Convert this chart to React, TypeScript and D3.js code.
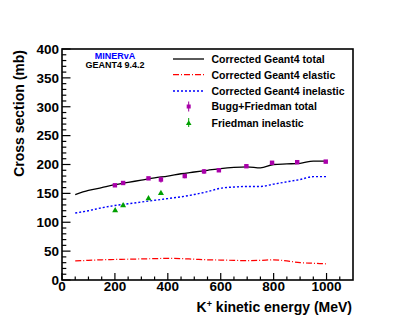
import React from "react";
import * as d3 from "d3";

const energy = [50, 100, 150, 200, 250, 300, 350, 400, 450, 500, 550, 600, 650, 700, 750, 800, 850, 900, 950, 1000];
const totalG4 = [148, 155, 160, 165, 169, 173, 177, 180, 184, 187, 190, 193, 195, 196, 194, 200, 201, 202, 206, 206];
const elasticG4 = [33, 34, 35, 35.5, 36, 36.5, 37, 37.5, 37, 36, 35, 34.5, 34, 33.5, 34, 35, 33, 30, 29, 28];
const inelasticG4 = [116, 120, 125, 129, 132, 135, 138, 141, 144, 148, 153, 159, 161, 162, 162, 166, 170, 174, 179, 179];

const buggE = [200, 231, 327, 374, 464, 537, 593, 697, 794, 889, 997];
const buggXS = [164, 168, 176, 174, 180, 188, 190, 197, 203, 204, 205];
const buggErr = [2, 2, 2, 5, 4, 4, 3, 3, 3, 3, 3];

const friedE = [201, 231, 327, 374];
const friedXS = [121, 130, 142, 151];

const xMajor = [0, 200, 400, 600, 800, 1000];
const yMajor = [0, 50, 100, 150, 200, 250, 300, 350, 400];

const W = 415, H = 329;
const L = 62, R = 353, T = 49, B = 280;
const FONT = "'Liberation Sans', Arial, Helvetica, sans-serif";

export default function App() {
  const x = d3.scaleLinear().domain([0, 1100]).range([L, R]);
  const y = d3.scaleLinear().domain([0, 400]).range([B, T]);
  const line = (ys: number[]) =>
    d3.line<number>().x((_, i) => x(energy[i])).y((d) => y(d)).curve(d3.curveMonotoneX)(ys) || "";

  const xMinor = d3.range(0, 1100, 50);
  const yMinor = d3.range(0, 401, 10);

  const legendRows = [
    { label: "Corrected Geant4 total", kind: "solid" },
    { label: "Corrected Geant4 elastic", kind: "dashdot" },
    { label: "Corrected Geant4 inelastic", kind: "dot" },
    { label: "Bugg+Friedman total", kind: "square" },
    { label: "Friedman inelastic", kind: "tri" },
  ];
  const rowY = [59, 74.7, 91, 106.5, 123];

  const tri = (cx: number, cy: number, s: number) =>
    `M${cx},${cy - s} L${cx + s},${cy + s * 0.75} L${cx - s},${cy + s * 0.75} Z`;

  return (
    <svg width={W} height={H} style={{ position: "absolute", left: 0, top: 0 }} fontFamily={FONT}>
      <rect width={W} height={H} fill="#fff" />
      {/* curves */}
      <path d={line(totalG4)} fill="none" stroke="#000" strokeWidth={1.3} />
      <path d={line(elasticG4)} fill="none" stroke="#ff0000" strokeWidth={1.2} strokeDasharray="6,2,1,2" />
      <path d={line(inelasticG4)} fill="none" stroke="#0000ff" strokeWidth={1.4} strokeDasharray="2,2" />
      {/* Bugg points */}
      {buggE.map((e, i) => (
        <g key={"b" + i}>
          <line x1={x(e)} x2={x(e)} y1={y(buggXS[i] - buggErr[i])} y2={y(buggXS[i] + buggErr[i])} stroke="#990099" strokeWidth={1.2} />
          <rect x={x(e) - 2.2} y={y(buggXS[i]) - 2.2} width={4.4} height={4.4} fill="#aa00aa" />
        </g>
      ))}
      {/* Friedman points */}
      {friedE.map((e, i) => (
        <path key={"f" + i} d={tri(x(e), y(friedXS[i]), 3)} fill="#00a000" />
      ))}
      {/* frame */}
      <rect x={L} y={T} width={R - L} height={B - T} fill="none" stroke="#000" strokeWidth={1.6} />
      {/* x ticks */}
      {xMinor.map((v) => (
        <line key={"xm" + v} x1={x(v)} x2={x(v)} y1={B} y2={B - (v % 200 === 0 ? 7 : 3.5)} stroke="#000" strokeWidth={1.2} />
      ))}
      {yMinor.map((v) => (
        <line key={"ym" + v} x1={L} x2={L + (v % 50 === 0 ? 8.5 : 4.3)} y1={y(v)} y2={y(v)} stroke="#000" strokeWidth={1.2} />
      ))}
      {xMajor.map((v) => (
        <text key={"xl" + v} x={x(v)} y={291} textAnchor="middle" fontSize={13.5} fontWeight="bold">{v}</text>
      ))}
      {yMajor.map((v) => (
        <text key={"yl" + v} x={59} y={y(v) + 4.8} textAnchor="end" fontSize={13.5} fontWeight="bold">{v}</text>
      ))}
      {/* axis titles */}
      <text x={352} y={312} textAnchor="end" fontSize={14} fontWeight="bold">
        K<tspan dy={-5} fontSize={9}>+</tspan><tspan dy={5}> kinetic energy (MeV)</tspan>
      </text>
      <text transform={`translate(23.5,50) rotate(-90)`} textAnchor="end" fontSize={14} fontWeight="bold">Cross section (mb)</text>
      {/* labels */}
      <text x={115} y={59} textAnchor="middle" fontSize={9} fontWeight="bold" fill="#0000ff">MINERvA</text>
      <text x={115} y={68} textAnchor="middle" fontSize={9} fontWeight="bold">GEANT4 9.4.2</text>
      {/* legend */}
      {legendRows.map((r, i) => {
        const cy = rowY[i];
        return (
          <g key={"lg" + i}>
            {r.kind === "solid" && <line x1={173} x2={204} y1={cy} y2={cy} stroke="#000" strokeWidth={1.3} />}
            {r.kind === "dashdot" && <line x1={173} x2={204} y1={cy} y2={cy} stroke="#ff0000" strokeWidth={1.2} strokeDasharray="6,2,1,2" />}
            {r.kind === "dot" && <line x1={173} x2={204} y1={cy} y2={cy} stroke="#0000ff" strokeWidth={1.4} strokeDasharray="2,2" />}
            {r.kind === "square" && (
              <g>
                <line x1={188.7} x2={188.7} y1={cy - 5} y2={cy + 5} stroke="#990099" strokeWidth={1} />
                <rect x={186.7} y={cy - 2} width={4} height={4} fill="#aa00aa" />
              </g>
            )}
            {r.kind === "tri" && (
              <g>
                <line x1={188.7} x2={188.7} y1={cy - 5} y2={cy + 4} stroke="#00a000" strokeWidth={1} />
                <path d={tri(188.7, cy, 2.8)} fill="#00a000" />
              </g>
            )}
            <text x={211.5} y={cy + 3.8} fontSize={10.5} fontWeight="bold">{r.label}</text>
          </g>
        );
      })}
    </svg>
  );
}
